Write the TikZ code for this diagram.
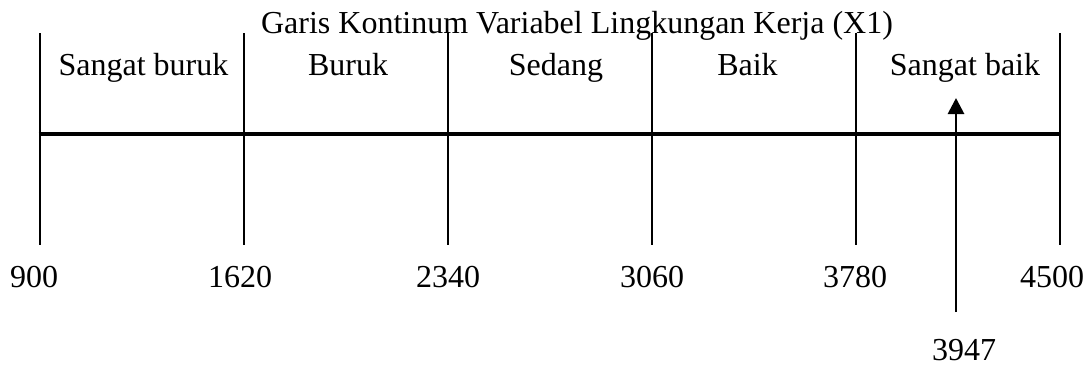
\documentclass[tikz,border=0pt]{standalone}
\usepackage{fontspec}
\setmainfont{Liberation Serif}
\usetikzlibrary{arrows.meta}
\begin{document}
\begin{tikzpicture}[x=1pt,y=-1pt,
  txt/.style={inner sep=0pt,anchor=base,font=\fontsize{32}{38}\selectfont},
  tick/.style={line width=2.8pt},
  axis/.style={line width=3.8pt},
  pointer/.style={line width=2.8pt,-{Triangle[width=16pt,length=16pt]}}]
\useasboundingbox (0,0) rectangle (1090,367);
% ticks
\foreach \i/\x in {0/40,1/244,2/448,3/652,4/856,5/1060}{
  \coordinate (t\i) at (\x,33);
  \coordinate (b\i) at (\x,245);
  \draw[tick] (t\i) -- (b\i);
}
\coordinate (L) at (38.6,134);
\coordinate (R) at (1061.4,134);
\draw[axis] (L) -- (R);
% title
\node[txt] (title) at (577,33) {Garis Kontinum Variabel Lingkungan Kerja (X1)};
% category labels
\node[txt] (c1) at (143.5,75) {Sangat buruk};
\node[txt] (c2) at (348,75) {Buruk};
\node[txt] (c3) at (556,75) {Sedang};
\node[txt] (c4) at (747.5,75) {Baik};
\node[txt] (c5) at (965,75) {Sangat baik};
% numbers
\node[txt] (n0) at (34,287) {900};
\node[txt] (n1) at (240,287) {1620};
\node[txt] (n2) at (448,287) {2340};
\node[txt] (n3) at (652,287) {3060};
\node[txt] (n4) at (855,287) {3780};
\node[txt] (n5) at (1052,287) {4500};
% pointer
\node[txt] (v) at (964,360) {3947};
\coordinate (pa) at (956,312);
\coordinate (pb) at (956,98);
\draw[pointer] (pa) -- (pb);
\end{tikzpicture}
\end{document}
